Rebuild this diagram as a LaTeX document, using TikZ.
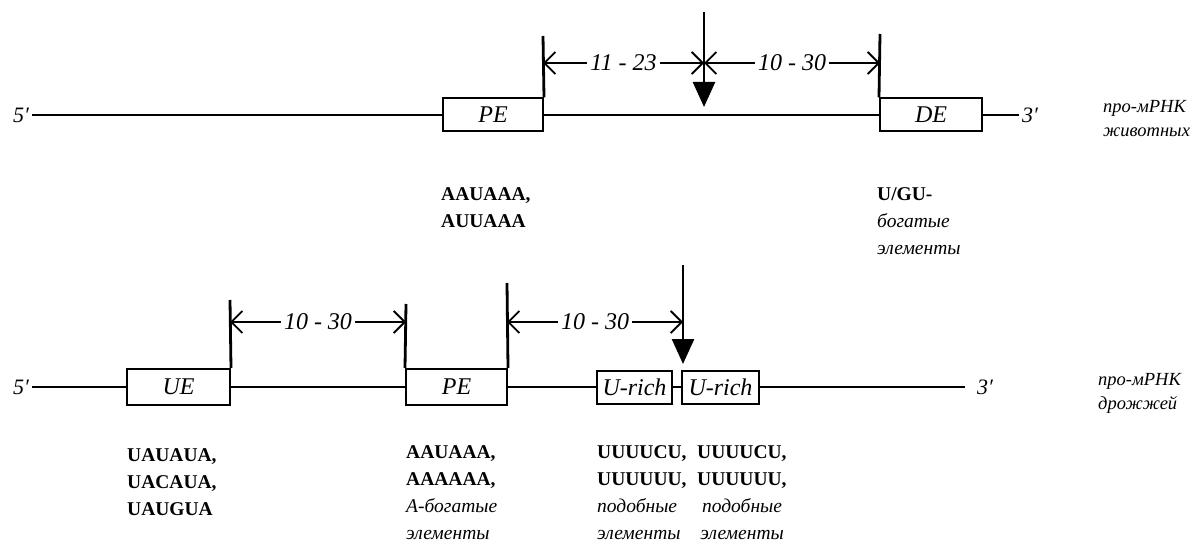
\documentclass[tikz,border=0pt]{standalone}
\usepackage{fontspec}
\setmainfont{Liberation Serif}
\usetikzlibrary{arrows.meta}

\begin{document}
\begin{tikzpicture}[
    x=1pt, y=-1pt,
    elem/.style={
        draw,
        rectangle,
        line width=2pt,
        minimum height=33pt,
        inner sep=0pt,
        font=\itshape\fontsize{24}{24}\selectfont
    },
    rna/.style={
        line width=2.4pt
    },
    mark line/.style={
        line width=2.8pt
    },
    gap/.style={
        fill=white,
        inner sep=3pt,
        font=\itshape\fontsize{24}{24}\selectfont
    },
    span/.style={
        {Straight Barb[length=11pt,width=22pt]}-{Straight Barb[length=11pt,width=22pt]},
        line width=1.8pt
    },
    cut/.style={
        -{Triangle[length=25pt,width=22pt]},
        line width=2.6pt
    },
    prime/.style={
        inner sep=3pt,
        font=\itshape\fontsize{22}{22}\selectfont
    },
    seq/.style={
        anchor=north west,
        inner sep=0pt,
        align=left,
        font=\bfseries\fontsize{19.5}{27}\selectfont
    },
    kind/.style={
        anchor=north west,
        inner sep=0pt,
        align=left,
        font=\itshape\fontsize{18.5}{24}\selectfont
    }
]
\useasboundingbox (0,0) rectangle (1194,545);

\node[prime] (p5a) at (21,115) {5′};
\node[elem, minimum width=100pt] (pe1) at (493,115) {PE};
\node[elem, minimum width=102pt] (de1) at (931,115) {DE};
\node[prime] (p3a) at (1030,115) {3′};
\node[kind] (rna1) at (1103,100) {про-мРНК\\животных};

\draw[rna] (p5a) -- (pe1);
\draw[rna] (pe1) -- (de1);
\draw[rna] (de1) -- (p3a);

\coordinate (k1) at (543,36);
\coordinate (k2) at (880,34);
\coordinate (c1s) at (704,12);
\coordinate (c1e) at (704,107);
\draw[mark line] (pe1.north east) -- (k1);
\draw[mark line] (de1.north west) -- (k2);
\draw[cut] (c1s) -- (c1e);

\draw[span] (k1 |- 0,63) -- node[gap] {11 - 23} (c1s |- 0,63);
\draw[span] (c1s |- 0,63) -- node[gap] {10 - 30} (k2 |- 0,63);

\node[seq] (s1) at (441,187) {AAUAAA,\\AUUAAA};
\node[seq] (s2) at (877,187) {U/GU-\\\mdseries\itshape богатые\\\mdseries\itshape элементы};

\node[prime] (p5b) at (21,387) {5′};
\node[elem, minimum width=103pt, minimum height=36pt] (ue2) at (178.5,387) {UE};
\node[elem, minimum width=101pt, minimum height=36pt] (pe2) at (456.5,387) {PE};
\node[elem, minimum width=75pt] (ur1) at (634.5,387) {U-rich};
\node[elem, minimum width=77pt] (ur2) at (720.5,387) {U-rich};
\coordinate (e3) at (965,387);
\node[prime] (p3b) at (985,387) {3′};
\node[kind] (rna2) at (1098,373) {про-мРНК\\дрожжей};

\draw[rna] (p5b) -- (ue2);
\draw[rna] (ue2) -- (pe2);
\draw[rna] (pe2) -- (ur1);
\draw[rna] (ur1) -- (ur2);
\draw[rna] (ur2) -- (e3);

\coordinate (k3) at (230,300);
\coordinate (k4) at (406,304);
\coordinate (k5) at (507,283);
\coordinate (c2s) at (683,265);
\coordinate (c2e) at (683,364);
\draw[mark line] (ue2.north east) -- (k3);
\draw[mark line] (pe2.north west) -- (k4);
\draw[mark line] (pe2.north east) -- (k5);
\draw[cut] (c2s) -- (c2e);

\draw[span] (k3 |- 0,322) -- node[gap] {10 - 30} (k4 |- 0,322);
\draw[span] (k5 |- 0,322) -- node[gap] {10 - 30} (c2s |- 0,322);

\node[seq] (s3) at (127,448) {UAUAUA,\\UACAUA,\\UAUGUA};
\node[seq] (s4) at (406,445) {AAUAAA,\\AAAAAA,\\\mdseries\itshape А-богатые\\\mdseries\itshape элементы};
\node[seq] (s5) at (597,445) {UUUUCU,\\UUUUUU,\\\mdseries\itshape подобные\\\mdseries\itshape элементы};
\node[seq] (s6) at (697,445) {UUUUCU,\\UUUUUU,\\\mdseries\itshape \ подобные\\\mdseries\itshape \,элементы};

\end{tikzpicture}
\end{document}
